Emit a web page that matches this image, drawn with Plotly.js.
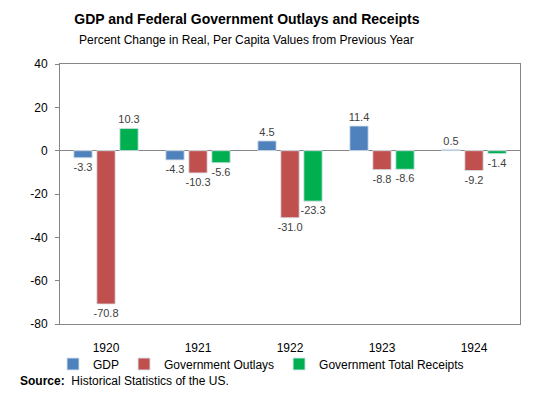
<!DOCTYPE html>
<html>
<head>
<meta charset="utf-8">
<script src="https://cdn.plot.ly/plotly-3.0.1.min.js"></script>
<style>html,body{margin:0;padding:0;background:#fff;}#chart{width:550px;height:396px;}</style>
</head>
<body>
<div id="chart"></div>
<script>
const years = ["1920", "1921", "1922", "1923", "1924"];
const gdp = [-3.3, -4.3, 4.5, 11.4, 0.5];
const outlays = [-70.8, -10.3, -31.0, -8.8, -9.2];
const receipts = [10.3, -5.6, -23.3, -8.6, -1.4];
const seriesNames = ["GDP", "Government Outlays", "Government Total Receipts"];
const colors = ["#4F81BD", "#C0504D", "#00B050"];
const yTicks = [40, 20, 0, -20, -40, -60, -80];
const yTickLabels = ["40", "20", "0", "-20", "-40", "-60", "-80"];
const boundaries = [0.5, 1.5, 2.5, 3.5];

const allSeries = [gdp, outlays, receipts];
const traces = allSeries.map((vals, i) => ({
  type: "bar",
  name: seriesNames[i],
  x: years,
  y: vals,
  text: vals.map(v => v.toFixed(1)),
  textposition: "outside",
  constraintext: "none",
  cliponaxis: false,
  textfont: {family: "Liberation Sans, Arial, sans-serif", size: 11, color: "#404040"},
  marker: {color: colors[i], line: {color: "rgba(220,230,240,0.9)", width: 1}},
  hoverinfo: "x+y"
}));

const layout = {
  width: 550, height: 396,
  margin: {l: 60, r: 30, t: 64, b: 72},
  paper_bgcolor: "#fff", plot_bgcolor: "#fff",
  font: {family: "Liberation Sans, Arial, sans-serif", size: 12, color: "#000"},
  title: {
    text: "<b>GDP and Federal Government Outlays and Receipts</b>",
    font: {size: 14, color: "#000"},
    x: 0.449, xanchor: "center", xref: "container",
    y: 1 - 19/396, yanchor: "middle", yref: "container"
  },
  bargap: 0.25,
  bargroupgap: 0.2,
  barmode: "group",
  showlegend: true,
  legend: {
    orientation: "h", xref: "container", yref: "container",
    x: 53/550, xanchor: "left", y: 1 - 364/396, yanchor: "middle",
    bgcolor: "rgba(0,0,0,0)",
    font: {size: 12, color: "#000"}, itemclick: false
  },
  xaxis: {
    type: "category", categoryorder: "array", categoryarray: years,
    range: [-0.5, 4.5],
    showline: true, mirror: true, linecolor: "#868686", linewidth: 1,
    ticks: "", showgrid: false, zeroline: false,
    ticklabelstandoff: 13,
    tickfont: {size: 12, color: "#000"}
  },
  xaxis2: {
    overlaying: "x", anchor: "free", position: 80/120,
    type: "linear", range: [-0.5, 4.5],
    tickmode: "array", tickvals: boundaries,
    ticks: "outside", ticklen: 4, tickcolor: "#868686",
    showticklabels: false, showgrid: false, zeroline: false, showline: false
  },
  yaxis: {
    range: [-80, 40], tickmode: "array", tickvals: yTicks, ticktext: yTickLabels,
    showline: true, mirror: true, linecolor: "#868686", linewidth: 1,
    ticks: "outside", ticklen: 4, tickcolor: "#868686",
    showgrid: false, zeroline: true, zerolinecolor: "#868686", zerolinewidth: 1,
    ticklabelstandoff: 5,
    tickfont: {size: 12, color: "#000"}
  },
  annotations: [
    {
      text: "Percent Change in Real, Per Capita Values from Previous Year",
      xref: "paper", yref: "paper",
      x: (246 - 60) / 460, y: (324 - 40) / 260, xanchor: "center", yanchor: "middle",
      showarrow: false, font: {size: 12, color: "#000"}
    },
    {
      text: "<b>Source:</b>  Historical Statistics of the US.",
      xref: "paper", yref: "paper",
      x: (18 - 60) / 460, y: (324 - 381) / 260, xanchor: "left", yanchor: "middle",
      showarrow: false, font: {size: 12, color: "#000"}
    }
  ]
};

Plotly.newPlot("chart", traces, layout, {displayModeBar: false, staticPlot: true});
</script>
</body>
</html>
